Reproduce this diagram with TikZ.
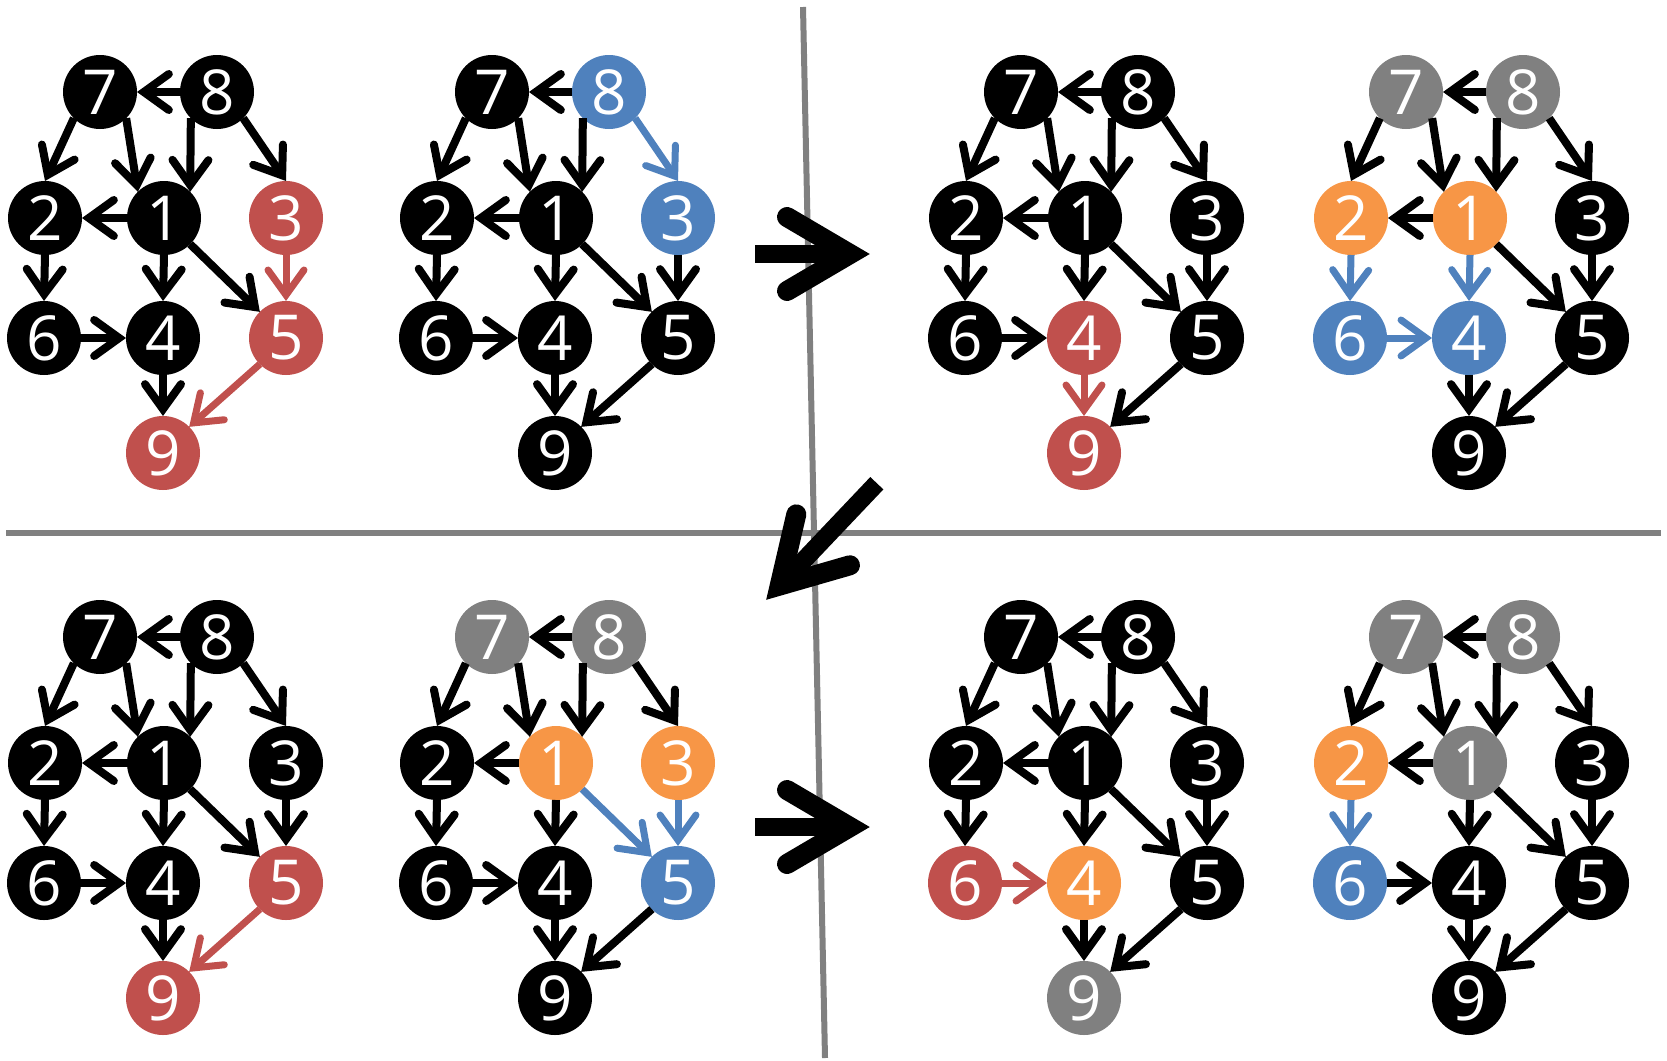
\documentclass[tikz,border=0pt]{standalone}
\usepackage{fontspec}
\setmainfont{Open Sans}
\usetikzlibrary{arrows.meta}

\definecolor{cred}{HTML}{C0504D}
\definecolor{cblue}{HTML}{4F81BD}
\definecolor{corange}{HTML}{F79646}
\definecolor{cgray}{HTML}{808080}

\tikzset{
  vtx/.style={circle, minimum size=74pt, inner sep=0pt, outer sep=0pt,
    fill=black, text=white, font=\fontsize{62}{62}\selectfont},
  link/.style={draw=black, line width=8pt,
    -{Straight Barb[length=25pt, width=36pt, line cap=round, line join=miter]}},
  hl/.style={draw=#1, line width=7pt},
  divider/.style={draw=cgray, line width=6pt},
  % per-vertex and per-edge hooks, overridden inside each panel
  n1/.style={}, n2/.style={}, n3/.style={}, n4/.style={}, n5/.style={},
  n6/.style={}, n7/.style={}, n8/.style={}, n9/.style={},
  e87/.style={}, e72/.style={}, e71/.style={}, e81/.style={}, e83/.style={},
  e12/.style={}, e26/.style={}, e14/.style={}, e15/.style={}, e35/.style={},
  e64/.style={}, e49/.style={}, e59/.style={},
}

% one copy of the DAG: #1 name prefix, #2/#3 offset, #4 colour overrides
\newcommand{\dagpanel}[4]{%
  \begin{scope}[shift={(#2,#3)}, #4]
    \node[vtx, n7] (#1-7) at (100,92)  {7};
    \node[vtx, n8] (#1-8) at (217,92)  {8};
    \node[vtx, n2] (#1-2) at (45,218)  {2};
    \node[vtx, n1] (#1-1) at (164,218) {1};
    \node[vtx, n3] (#1-3) at (286,218) {3};
    \node[vtx, n6] (#1-6) at (44,338)  {6};
    \node[vtx, n4] (#1-4) at (163,338) {4};
    \node[vtx, n5] (#1-5) at (286,338) {5};
    \node[vtx, n9] (#1-9) at (163,453) {9};
    \draw[link, e87] (#1-8.west) -- (#1-7.east);
    \draw[link, e72] (#1-7.south west) -- (#1-2.north);
    \draw[link, e71] (#1-7.south east) -- (#1-1.north west);
    \draw[link, e81] (#1-8.south west) -- (#1-1.north east);
    \draw[link, e83] (#1-8.south east) -- (#1-3.north);
    \draw[link, e12] (#1-1.west) -- (#1-2.east);
    \draw[link, e26] (#1-2.south) -- (#1-6.north);
    \draw[link, e14] (#1-1.south) -- (#1-4.north);
    \draw[link, e15] (#1-1.south east) -- (#1-5.north west);
    \draw[link, e35] (#1-3.south) -- (#1-5.north);
    \draw[link, e64] (#1-6.east) -- (#1-4.west);
    \draw[link, e49] (#1-4.south) -- (#1-9.north);
    \draw[link, e59] (#1-5.south west) -- (#1-9.north east);
  \end{scope}}

% large step arrow: tip at (#1,#2), direction #3, shaft length #4
\newcommand{\steparrow}[4]{%
  \begin{scope}[shift={(#1,#2)}, rotate=#3]
    \draw[line width=18pt] (-#4,0) -- (-28,0);
    \draw[line width=20pt, line cap=round, line join=miter]
      (-83,37) -- (-20,0) -- (-83,-37);
  \end{scope}}

\begin{document}
\begin{tikzpicture}[x=1pt, y=-1pt]
  \useasboundingbox (0,0) rectangle (1667,1060);

  % quadrant dividers
  \draw[divider] (803,7) -- (825,1058);
  \draw[divider] (6,533) -- (1661,533);

  % step arrows between the stages
  \steparrow{870}{254}{0}{115}
  \steparrow{766}{600}{226.5}{161}
  \steparrow{870}{827}{0}{115}

  \dagpanel{a}{0}{0}{n3/.style={fill=cred}, n5/.style={fill=cred},
    n9/.style={fill=cred}, e35/.style={hl=cred}, e59/.style={hl=cred}}
  \dagpanel{b}{392}{0}{n8/.style={fill=cblue}, n3/.style={fill=cblue},
    e83/.style={hl=cblue}}
  \dagpanel{c}{921}{0}{n4/.style={fill=cred}, n9/.style={fill=cred},
    e49/.style={hl=cred}}
  \dagpanel{d}{1306}{0}{n7/.style={fill=cgray}, n8/.style={fill=cgray},
    n2/.style={fill=corange}, n1/.style={fill=corange},
    n6/.style={fill=cblue}, n4/.style={fill=cblue},
    e26/.style={hl=cblue}, e14/.style={hl=cblue}, e64/.style={hl=cblue}}
  \dagpanel{e}{0}{545}{n5/.style={fill=cred}, n9/.style={fill=cred},
    e59/.style={hl=cred}}
  \dagpanel{f}{392}{545}{n7/.style={fill=cgray}, n8/.style={fill=cgray},
    n1/.style={fill=corange}, n3/.style={fill=corange},
    n5/.style={fill=cblue}, e15/.style={hl=cblue}, e35/.style={hl=cblue}}
  \dagpanel{g}{921}{545}{n6/.style={fill=cred}, n4/.style={fill=corange},
    n9/.style={fill=cgray}, e64/.style={hl=cred}}
  \dagpanel{h}{1306}{545}{n7/.style={fill=cgray}, n8/.style={fill=cgray},
    n1/.style={fill=cgray}, n2/.style={fill=corange},
    n6/.style={fill=cblue}, e26/.style={hl=cblue}}
\end{tikzpicture}
\end{document}
